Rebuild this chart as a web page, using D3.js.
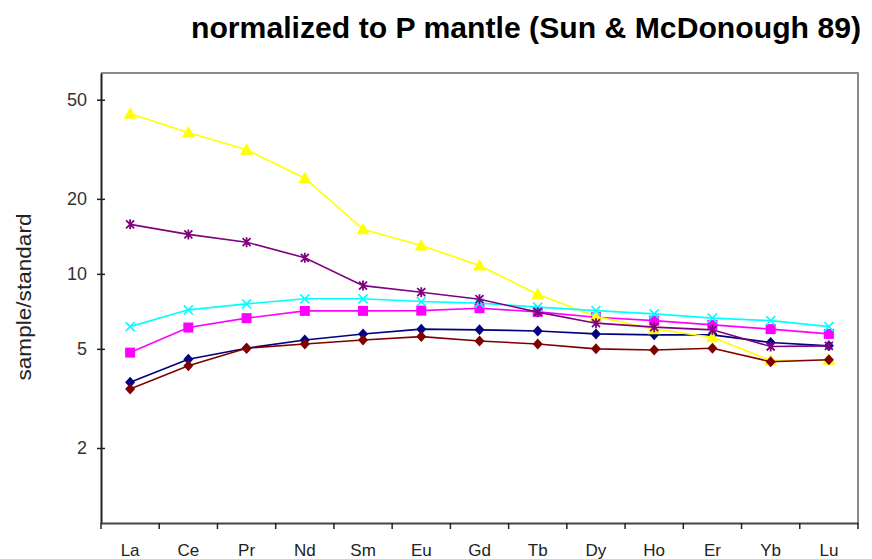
<!DOCTYPE html>
<html><head><meta charset="utf-8">
<script src="https://cdn.jsdelivr.net/npm/d3@7"></script>
<style>body{margin:0;background:#fff}svg{display:block}text{font-family:"Liberation Sans",Arial,sans-serif}</style>
</head><body>
<script>
const categories = ["La","Ce","Pr","Nd","Sm","Eu","Gd","Tb","Dy","Ho","Er","Yb","Lu"];
const yTicks = [2,5,10,20,50];
const navySeries    = [3.67,4.54,5.03,5.43,5.74,6.0,5.96,5.90,5.74,5.69,5.69,5.30,5.14];
const magentaSeries = [4.83,6.09,6.64,7.10,7.10,7.12,7.28,7.04,6.70,6.49,6.24,6.00,5.74];
const yellowSeries  = [43.9,36.9,31.5,24.2,15.1,13.0,10.8,8.29,6.74,6.00,5.57,4.49,4.52];
const cyanSeries    = [6.14,7.17,7.58,7.94,7.94,7.74,7.63,7.35,7.12,6.91,6.64,6.49,6.14];
const purpleSeries  = [15.8,14.4,13.4,11.6,8.97,8.44,7.91,7.02,6.34,6.11,5.96,5.11,5.14];
const brownSeries   = [3.45,4.28,5.03,5.23,5.43,5.60,5.38,5.23,5.00,4.95,5.03,4.44,4.52];

const W=872,H=559, L=101, R=858, T=73, B=523;
const svg=d3.select("body").append("svg").attr("width",W).attr("height",H);
const x=d3.scaleBand().domain(categories).range([L,R]);
const y=d3.scaleLog().domain([1,64]).range([B,T]);

svg.append("path").attr("d",`M${L},${T}H${R}V${B}`).attr("fill","none").attr("stroke","#8a8a8a").attr("stroke-width",2);

const ya=svg.append("g").attr("transform",`translate(${L},0)`).call(d3.axisLeft(y).tickValues(yTicks).tickFormat(d3.format("d")).tickSizeInner(4).tickSizeOuter(0));
ya.select(".domain").attr("stroke","#222").attr("stroke-width",2);
ya.selectAll(".tick line").attr("x1",4).attr("x2",-4).attr("stroke","#222").attr("stroke-width",1.5);
ya.selectAll(".tick text").attr("x",-14).attr("font-size",18).attr("fill","#333").attr("font-family","Liberation Sans, Arial");

const xa=svg.append("g").attr("transform",`translate(0,${B})`).call(d3.axisBottom(x).tickSize(0).tickSizeOuter(0));
xa.select(".domain").attr("stroke","#444").attr("stroke-width",2);
xa.selectAll(".tick text").attr("dy",0).attr("y",33).attr("font-size",17).attr("fill","#222").attr("font-family","Liberation Sans, Arial");
const bounds=categories.map(c=>x(c)).concat([x(categories[categories.length-1])+x.bandwidth()]);
xa.selectAll(".bt").data(bounds).join("line").attr("x1",d=>d).attr("x2",d=>d).attr("y1",0).attr("y2",6).attr("stroke","#222").attr("stroke-width",1.5);

svg.append("text").attr("x",526).attr("y",38).attr("text-anchor","middle").attr("font-weight","bold").attr("font-size",29).attr("textLength",670).attr("lengthAdjust","spacingAndGlyphs").attr("fill","#000").text("normalized to P mantle (Sun & McDonough 89)");
svg.append("text").attr("transform","translate(31,297) rotate(-90)").attr("text-anchor","middle").attr("font-size",20).attr("textLength",167).attr("lengthAdjust","spacingAndGlyphs").attr("fill","#222").text("sample/standard");

const cx=c=>x(c)+x.bandwidth()/2;
const line=d3.line().x((d,i)=>cx(categories[i])).y(d=>y(d));
const series=[
 {v:navySeries,c:"#000080",m:"diamond"},
 {v:magentaSeries,c:"#ff00ff",m:"square"},
 {v:yellowSeries,c:"#ffff00",m:"triangle"},
 {v:cyanSeries,c:"#00ffff",m:"x"},
 {v:purpleSeries,c:"#800080",m:"star"},
 {v:brownSeries,c:"#800000",m:"diamond"}
];
series.forEach(s=>{
 svg.append("path").datum(s.v).attr("d",line).attr("fill","none").attr("stroke",s.c).attr("stroke-width",1.6);
 const g=svg.append("g");
 s.v.forEach((d,i)=>{
  const px=cx(categories[i]), py=y(d);
  const gg=g.append("g").attr("transform",`translate(${px},${py})`);
  if(s.m==="diamond") gg.append("path").attr("d","M0,-5.5L5,0L0,5.5L-5,0Z").attr("fill",s.c);
  else if(s.m==="square") gg.append("rect").attr("x",-5).attr("y",-5).attr("width",10).attr("height",10).attr("fill",s.c);
  else if(s.m==="triangle") gg.append("path").attr("d","M0,-6.5L6.5,5L-6.5,5Z").attr("fill",s.c);
  else if(s.m==="x") gg.append("path").attr("d","M-4.5,-4.5L4.5,4.5M-4.5,4.5L4.5,-4.5").attr("stroke",s.c).attr("stroke-width",1.6).attr("fill","none");
  else if(s.m==="star") gg.append("path").attr("d","M-4,-4L4,4M-4,4L4,-4M0,-5V5").attr("stroke",s.c).attr("stroke-width",1.8).attr("fill","none");
 });
});
</script>
</body></html>
